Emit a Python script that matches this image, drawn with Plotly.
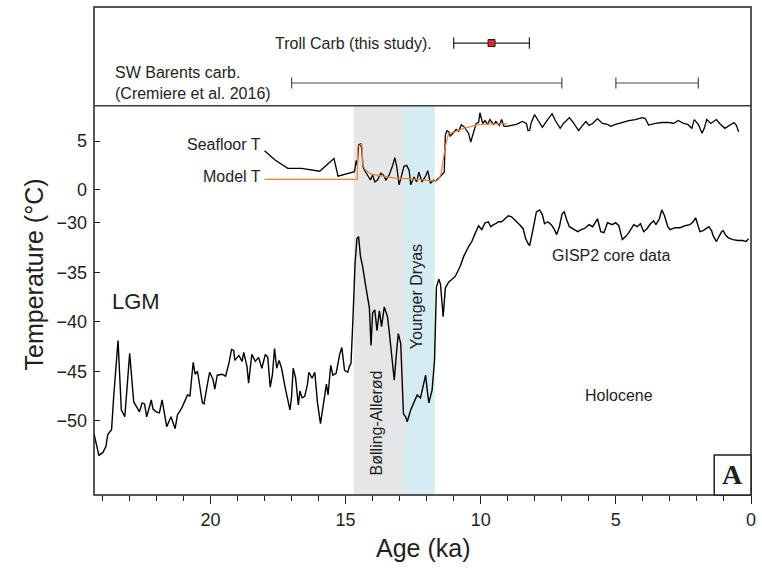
import plotly.graph_objs as go

# GISP2 core data (age in ka, temperature in deg C)
gisp_age = [24.31, 24.13, 23.98, 23.87, 23.80, 23.66, 23.58, 23.42, 23.30, 23.17,
            22.99, 22.84, 22.69, 22.63, 22.53, 22.44, 22.36, 22.19, 22.13, 22.01,
            21.89, 21.79, 21.62, 21.46, 21.31, 21.22, 21.06, 20.85, 20.76, 20.64,
            20.57, 20.48, 20.30, 20.24, 20.12, 20.03, 19.91, 19.84, 19.75, 19.57,
            19.44, 19.32, 19.22, 19.14, 19.10, 18.95, 18.83, 18.77, 18.65, 18.59,
            18.47, 18.34, 18.22, 18.10, 17.97, 17.88, 17.79, 17.71, 17.63, 17.55,
            17.46, 17.37, 17.24, 17.14, 17.06, 17.00, 16.94, 16.85, 16.75, 16.69,
            16.61, 16.51, 16.41, 16.36, 16.24, 16.14, 16.04, 15.93, 15.80, 15.71,
            15.65, 15.55, 15.47, 15.35, 15.22, 15.14, 15.04, 14.92, 14.86, 14.80,
            14.73, 14.65, 14.58, 14.52, 14.45, 14.37, 14.25, 14.12, 14.06, 14.00,
            13.92, 13.84, 13.75, 13.67, 13.57, 13.45, 13.39, 13.30, 13.20, 13.11,
            13.05, 12.96, 12.90, 12.86, 12.78, 12.72, 12.59, 12.47, 12.35, 12.23,
            12.13, 12.04, 11.98, 11.92, 11.80, 11.71, 11.64, 11.55, 11.49, 11.39,
            11.31, 11.19, 11.06, 10.94, 10.76, 10.63, 10.45, 10.33, 10.21, 10.08,
            9.96, 9.84, 9.72, 9.63, 9.53, 9.44, 9.35, 9.23, 9.14, 8.98,
            8.86, 8.74, 8.56, 8.43, 8.34, 8.25, 8.19, 8.09, 7.94, 7.82,
            7.72, 7.64, 7.52, 7.39, 7.27, 7.19, 7.09, 6.99, 6.91, 6.82,
            6.72, 6.60, 6.41, 6.29, 6.17, 5.99, 5.86, 5.68, 5.56, 5.44,
            5.31, 5.13, 5.01, 4.89, 4.76, 4.64, 4.52, 4.34, 4.21, 4.09,
            3.97, 3.85, 3.72, 3.60, 3.52, 3.39, 3.30, 3.20, 3.08, 2.99,
            2.81, 2.62, 2.44, 2.26, 2.14, 2.05, 1.97, 1.89, 1.77, 1.64,
            1.56, 1.46, 1.40, 1.28, 1.22, 1.16, 1.09, 1.03, 0.95, 0.85,
            0.67, 0.48, 0.30, 0.18, 0.09]
gisp_temp = [-51.3, -53.5, -53.2, -52.6, -51.4, -50.9, -47.5, -41.9, -48.9, -49.6,
             -43.2, -48.1, -48.8, -49.1, -48.2, -48.3, -49.6, -47.9, -48.8, -49.1,
             -49.2, -47.9, -50.6, -49.6, -50.8, -49.4, -48.7, -47.4, -47.5, -44.1,
             -45.3, -45.0, -48.2, -48.3, -46.4, -45.1, -45.8, -46.8, -45.4, -45.3,
             -45.5, -44.2, -42.8, -42.9, -43.9, -43.4, -44.0, -43.1, -44.5, -46.2,
             -43.3, -44.0, -43.6, -44.7, -43.3, -43.6, -46.6, -45.4, -42.7, -44.7,
             -43.9, -44.7, -46.6, -47.9, -48.9, -47.6, -44.7, -45.7, -48.4, -47.0,
             -47.7, -47.5, -46.3, -45.1, -45.7, -45.1, -48.2, -50.3, -47.6, -46.3,
             -47.4, -44.4, -45.4, -45.2, -43.3, -42.6, -44.9, -45.1, -44.5, -44.2,
             -39.8, -34.1, -31.6, -31.4, -33.4, -34.4, -36.5, -38.6, -42.4, -39.1,
             -38.8, -40.9, -38.9, -40.5, -38.5, -39.5, -40.9, -43.2, -45.9, -42.9,
             -41.2, -42.2, -46.2, -49.3, -49.6, -50.1, -48.9, -48.1, -47.4, -47.7,
             -46.3, -45.4, -46.9, -48.2, -46.9, -43.9, -36.5, -35.7, -36.2, -39.5,
             -36.6, -36.0, -35.7, -35.4, -34.4, -33.4, -32.4, -31.9, -31.1, -30.3,
             -30.7, -30.0, -29.9, -30.4, -30.2, -30.1, -29.9, -29.9, -29.7, -29.3,
             -29.4, -29.7, -30.2, -30.6, -31.6, -32.1, -32.3, -31.0, -28.9, -28.7,
             -29.2, -30.1, -29.9, -30.2, -30.7, -31.2, -30.4, -29.1, -28.9, -29.7,
             -30.4, -30.6, -30.9, -30.7, -30.6, -30.2, -30.4, -29.6, -30.9, -31.0,
             -30.0, -30.2, -30.0, -30.3, -31.7, -31.4, -31.0, -30.2, -30.4, -30.1,
             -30.9, -30.6, -30.1, -29.8, -30.2, -29.6, -28.7, -29.3, -30.4, -30.7,
             -30.5, -30.5, -30.3, -30.2, -29.9, -29.5, -30.3, -30.9, -30.8, -30.6,
             -30.4, -30.8, -31.3, -31.9, -31.6, -31.3, -30.9, -30.8, -31.2, -31.5,
             -31.7, -31.8, -31.8, -31.9, -31.6]

# Seafloor temperature
seafloor_age = [18.00, 17.61, 17.14, 16.63, 15.96, 15.43, 15.28, 14.98, 14.67, 14.61,
                14.57, 14.52, 14.45, 14.40, 14.36, 14.30, 14.18, 14.08, 14.00, 13.92,
                13.82, 13.70, 13.60, 13.51, 13.39, 13.27, 13.18, 13.11, 13.02, 12.94,
                12.84, 12.74, 12.65, 12.59, 12.47, 12.37, 12.29, 12.17, 12.04, 11.96,
                11.86, 11.74, 11.68, 11.55, 11.43, 11.35, 11.31, 11.25, 11.19, 11.13,
                11.03, 10.91, 10.82, 10.72, 10.63, 10.54, 10.45, 10.37, 10.27, 10.17,
                10.08, 10.03, 9.93, 9.84, 9.75, 9.66, 9.53, 9.44, 9.31, 9.23,
                9.14, 9.05, 8.86, 8.68, 8.46, 8.31, 8.25, 8.19, 8.13, 8.01,
                7.85, 7.72, 7.55, 7.36, 7.24, 7.06, 6.94, 6.72, 6.58, 6.38,
                6.26, 6.11, 5.99, 5.86, 5.68, 5.50, 5.31, 5.19, 5.01, 4.76,
                4.52, 4.28, 4.03, 3.91, 3.79, 3.54, 3.30, 3.05, 2.87, 2.69,
                2.50, 2.34, 2.19, 2.10, 1.95, 1.81, 1.73, 1.64, 1.49, 1.28,
                1.16, 0.97, 0.79, 0.63, 0.54, 0.46]
seafloor_temp = [4.0, 3.05, 2.2, 2.2, 1.9, 3.2, 1.4, 1.6, 1.85, 3.0,
                 2.5, 4.6, 4.7, 4.2, 2.4, 2.0, 1.5, 1.0, 1.5, 0.8,
                 1.0, 1.7, 1.5, 1.0, 1.5, 2.4, 3.3, 2.4, 0.5, 1.3,
                 2.4, 2.5, 2.0, 0.5, 1.3, 0.8, 1.8, 0.8, 1.4, 1.95,
                 0.66, 1.0, 0.9, 1.2, 1.5, 1.8, 5.6, 6.06, 5.95, 5.5,
                 5.8, 6.2, 6.0, 6.64, 6.5, 6.2, 5.8, 4.9, 5.9, 6.8,
                 6.9, 7.9, 6.8, 7.1, 6.7, 7.2, 6.7, 7.0, 6.6, 7.2,
                 6.5, 6.5, 6.6, 6.7, 7.0, 6.8, 6.06, 6.1, 6.9, 7.7,
                 7.0, 6.4, 7.1, 7.8, 7.1, 6.3, 6.8, 7.4, 6.9, 6.06,
                 6.5, 7.0, 6.6, 6.8, 7.3, 6.8, 6.7, 6.5, 6.7, 6.9,
                 7.1, 7.2, 7.4, 7.3, 6.64, 6.8, 6.9, 6.9, 6.8, 7.1,
                 6.8, 6.7, 6.3, 7.2, 6.7, 5.8, 6.3, 7.2, 6.8, 7.2,
                 6.8, 6.3, 6.6, 6.9, 6.6, 5.95]

# Model temperature
model_age = [18.00, 14.57, 14.55, 14.40, 14.36, 14.26, 14.06, 13.70, 13.20, 12.72,
             12.23, 11.74, 11.58, 11.47, 11.31, 11.19, 11.00, 10.63, 10.15, 9.66, 9.02]
model_temp = [1.07, 1.07, 4.4, 4.76, 2.5, 2.0, 1.6, 1.4, 1.2, 1.13,
              1.0, 0.9, 1.0, 1.6, 4.4, 5.8, 5.9, 6.3, 6.64, 6.75, 6.75]

# carbonate ages (ka)
troll_age = [9.6]
troll_min = [8.2]
troll_max = [11.0]
sw_start = [17.0, 5.0]
sw_end = [7.0, 1.95]

# climate periods (ka)
ba_period = [14.7, 12.8]
yd_period = [12.8, 11.7]

FONT = "Liberation Sans, Arial, sans-serif"
TXT = "#231f20"

top_dom = [0.7977, 1.0]
mid_dom = [0.5922, 0.7977]
low_dom = [0.0, 0.5922]

fig = go.Figure()

# dating ranges (top panel)
sw_x, sw_y = [], []
for s, e in zip(sw_start, sw_end):
    sw_x += [s, e, None]
    sw_y += [1, 1, None]
fig.add_trace(go.Scatter(x=sw_x, y=sw_y, mode="lines+markers", yaxis="y",
                         line=dict(color="#4a4a4a", width=1.2),
                         marker=dict(symbol="line-ns-open", size=8,
                                     line=dict(color="#3a3a3a", width=1.2)),
                         hoverinfo="skip"))
tr_x, tr_y = [], []
for lo, hi in zip(troll_min, troll_max):
    tr_x += [hi, lo, None]
    tr_y += [2, 2, None]
fig.add_trace(go.Scatter(x=tr_x, y=tr_y, mode="lines+markers", yaxis="y",
                         line=dict(color="#231f20", width=1.2),
                         marker=dict(symbol="line-ns-open", size=8,
                                     line=dict(color="#231f20", width=1.2)),
                         hoverinfo="skip"))
fig.add_trace(go.Scatter(x=troll_age, y=[2] * len(troll_age), mode="markers", yaxis="y",
                         marker=dict(symbol="square", size=7, color="#e3262b",
                                     line=dict(color="#231f20", width=1))))

# seafloor and model temperature
fig.add_trace(go.Scatter(x=seafloor_age, y=seafloor_temp, mode="lines", yaxis="y2",
                         line=dict(color="black", width=1.3)))
fig.add_trace(go.Scatter(x=model_age, y=model_temp, mode="lines", yaxis="y2",
                         line=dict(color="#f28033", width=1.2)))

# GISP2
fig.add_trace(go.Scatter(x=gisp_age, y=gisp_temp, mode="lines", yaxis="y3",
                         line=dict(color="black", width=1.4)))

shapes = [
    dict(type="rect", xref="x", yref="paper", x0=ba_period[0], x1=ba_period[1],
         y0=0, y1=top_dom[0], fillcolor="#e5e6e8", line_width=0, layer="below"),
    dict(type="rect", xref="x", yref="paper", x0=yd_period[0], x1=yd_period[1],
         y0=0, y1=top_dom[0], fillcolor="#d5edf2", line_width=0, layer="below"),
    dict(type="rect", xref="paper", yref="paper", x0=0, x1=1, y0=0, y1=1,
         line=dict(color=TXT, width=1.5)),
    dict(type="line", xref="paper", yref="paper", x0=0, x1=1, y0=top_dom[0], y1=top_dom[0],
         line=dict(color="#3a3a3a", width=1.5)),
    dict(type="rect", xref="paper", yref="paper", x0=0.944, x1=1, y0=0, y1=0.082,
         line=dict(color=TXT, width=1.5), fillcolor="white"),
]

annotations = [
    dict(text="Troll Carb (this study).", x=11.72, y=2, xref="x", yref="y",
         xanchor="right", showarrow=False, font=dict(size=16)),
    dict(text="SW Barents carb.<br>(Cremiere et al. 2016)", x=23.61, y=1, xref="x", yref="y",
         xanchor="left", align="left", showarrow=False, font=dict(size=16)),
    dict(text="Seafloor T", x=18.04, y=4.66, xref="x", yref="y2",
         xanchor="right", showarrow=False, font=dict(size=16)),
    dict(text="Model T", x=18.07, y=1.4, xref="x", yref="y2",
         xanchor="right", showarrow=False, font=dict(size=16)),
    dict(text="LGM", x=22.77, y=-38.0, xref="x", yref="y3",
         showarrow=False, font=dict(size=22)),
    dict(text="GISP2 core data", x=5.19, y=-33.3, xref="x", yref="y3",
         showarrow=False, font=dict(size=16)),
    dict(text="Holocene", x=4.9, y=-47.5, xref="x", yref="y3",
         showarrow=False, font=dict(size=16)),
    dict(text="Bølling-Allerød", x=13.85, y=-50.2, xref="x", yref="y3", textangle=-90,
         showarrow=False, font=dict(size=16)),
    dict(text="Younger Dryas", x=12.35, y=-37.5, xref="x", yref="y3", textangle=-90,
         showarrow=False, font=dict(size=16)),
    dict(text="<b>A</b>", x=0.972, y=0.041, xref="paper", yref="paper",
         xanchor="center", yanchor="middle", showarrow=False,
         font=dict(size=28, family="Liberation Serif, Times New Roman, serif")),
    dict(text="Temperature (°C)", x=-0.092, y=0.451, xref="paper", yref="paper",
         xanchor="center", yanchor="middle", textangle=-90, showarrow=False,
         font=dict(size=25)),
    dict(text="Age (ka)", x=0.5, y=-0.1086, xref="paper", yref="paper",
         xanchor="center", yanchor="middle", showarrow=False, font=dict(size=25)),
]

layout = go.Layout(
    width=762, height=568,
    margin=dict(l=94, r=6, t=7, b=73),
    paper_bgcolor="white", plot_bgcolor="white",
    showlegend=False,
    font=dict(family=FONT, color=TXT),
    xaxis=dict(range=[24.31, 0], anchor="y3", tickvals=[0, 5, 10, 15, 20],
               ticks="outside", ticklen=8, tickcolor=TXT, tickwidth=1.2,
               minor=dict(dtick=1, tick0=0, ticks="outside", ticklen=5, tickcolor=TXT, tickwidth=1),
               showgrid=False, zeroline=False, showline=False,
               tickfont=dict(size=18)),
    yaxis=dict(domain=top_dom, range=[0.432, 2.901], anchor="x", visible=False),
    yaxis2=dict(domain=mid_dom, range=[-1.67, 8.62], anchor="x", tickvals=[0, 5],
                ticks="inside", ticklen=6, tickcolor=TXT, showgrid=False, zeroline=False,
                showline=False, tickfont=dict(size=18), ticklabelstandoff=6),
    yaxis3=dict(domain=low_dom, range=[-57.5, -28.31], anchor="x",
                tickvals=[-30, -35, -40, -45, -50], ticks="inside", ticklen=6, tickcolor=TXT,
                showgrid=False, zeroline=False, showline=False, tickfont=dict(size=18),
                ticklabelstandoff=6),
    shapes=shapes,
    annotations=annotations,
)
fig.update_layout(layout)

# page margin off so the figure fills the window, no modebar
fig.write_html("out.html", config={"displayModeBar": False},
               post_script="document.body.style.margin='0';")
